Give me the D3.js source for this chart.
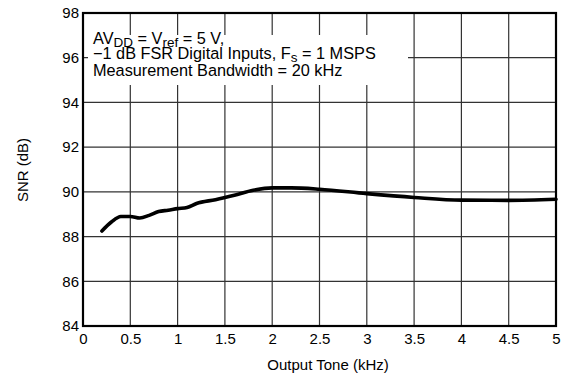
<!DOCTYPE html>
<html><head><meta charset="utf-8">
<script src="https://cdn.jsdelivr.net/npm/d3@7"></script>
<style>body{margin:0;background:#fff}text{font-family:"Liberation Sans",Arial,sans-serif;fill:#000}</style>
</head><body><svg id="c" width="569" height="377"></svg>
<script>
const freqKHz = [0.2,0.3,0.4,0.5,0.6,0.7,0.8,0.9,1.0,1.1,1.2,1.4,1.6,1.8,2.0,2.2,2.5,3.0,3.5,4.0,4.5,5.0];
const snrDB   = [88.25,88.65,88.9,88.9,88.83,88.95,89.12,89.18,89.25,89.3,89.48,89.65,89.85,90.07,90.18,90.18,90.12,89.92,89.75,89.63,89.62,89.67];
const xTicks = [0,0.5,1,1.5,2,2.5,3,3.5,4,4.5,5];
const yTicks = [84,86,88,90,92,94,96,98];

const svg = d3.select("#c");
const L=83,R=556,T=13,B=326;
const x = d3.scaleLinear().domain([0,5]).range([L,R]);
const y = d3.scaleLinear().domain([84,98]).range([B,T]);

const g = svg.append("g");
g.selectAll(".vg").data(xTicks.slice(1,-1)).join("line")
 .attr("x1",d=>x(d)).attr("x2",d=>x(d)).attr("y1",T).attr("y2",B)
 .attr("stroke","#333").attr("stroke-width",1.2);
g.selectAll(".hg").data(yTicks.slice(1,-1)).join("line")
 .attr("x1",L).attr("x2",R).attr("y1",d=>y(d)).attr("y2",d=>y(d))
 .attr("stroke","#333").attr("stroke-width",1.2);

// annotation background
svg.append("rect").attr("x",88).attr("y",35).attr("width",320).attr("height",50).attr("fill","#fff");
const ann = svg.append("text").attr("font-size",16.3);
const l1 = ann.append("tspan").attr("x",93).attr("y",44);
l1.append("tspan").text("AV");
l1.append("tspan").attr("font-size",13.5).attr("dy",3).text("DD");
l1.append("tspan").attr("dy",-3).text(" = V");
l1.append("tspan").attr("font-size",13.5).attr("dy",3).text("ref");
l1.append("tspan").attr("dy",-3).text(" = 5 V,");
const l2 = ann.append("tspan").attr("x",93).attr("y",59);
l2.append("tspan").text("\u22121 dB FSR Digital Inputs, F");
l2.append("tspan").attr("font-size",13.5).attr("dy",3).text("s");
l2.append("tspan").attr("dy",-3).text(" = 1 MSPS");
ann.append("tspan").attr("x",93).attr("y",75.5).text("Measurement Bandwidth = 20 kHz");

// frame
svg.append("rect").attr("x",L).attr("y",T).attr("width",R-L).attr("height",B-T)
 .attr("fill","none").attr("stroke","#000").attr("stroke-width",2.2);

// curve
svg.append("path").datum(freqKHz.map((f,i)=>[f,snrDB[i]]))
 .attr("fill","none").attr("stroke","#000").attr("stroke-width",3.6).attr("stroke-linejoin","round").attr("stroke-linecap","round")
 .attr("d",d3.line().x(d=>x(d[0])).y(d=>y(d[1])).curve(d3.curveMonotoneX));

// axes
const xa = d3.axisBottom(x).tickValues(xTicks).tickSize(0).tickPadding(7).tickFormat(d3.format("~g"));
svg.append("g").attr("transform",`translate(0,${B})`).call(xa)
 .call(a=>a.select(".domain").remove())
 .selectAll("text").attr("font-size",15).attr("font-family","Liberation Sans, Arial, sans-serif");
const ya = d3.axisLeft(y).tickValues(yTicks).tickSize(0).tickPadding(4);
svg.append("g").attr("transform",`translate(${L},0)`).call(ya)
 .call(a=>a.select(".domain").remove())
 .selectAll("text").attr("font-size",15).attr("font-family","Liberation Sans, Arial, sans-serif");

svg.append("text").attr("x",328).attr("y",370).attr("text-anchor","middle").attr("font-size",15).text("Output Tone (kHz)");
svg.append("text").attr("transform","translate(28,170) rotate(-90)").attr("text-anchor","middle").attr("font-size",15).text("SNR (dB)");
</script></body></html>
